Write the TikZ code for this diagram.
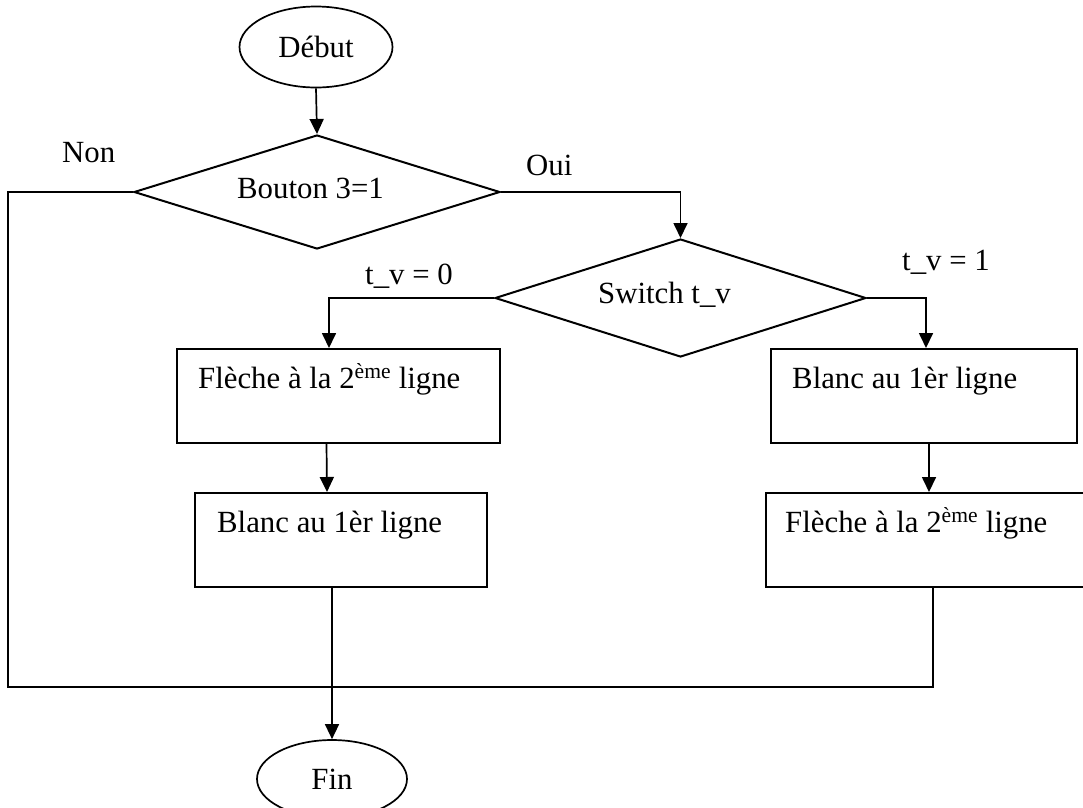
\documentclass[tikz,border=0pt]{standalone}
\usepackage{fontspec}
\setmainfont{Liberation Serif}
\usetikzlibrary{shapes.geometric,arrows.meta,calc}

\begin{document}
\begin{tikzpicture}[x=1pt,y=-1pt,
  every node/.style={font=\fontsize{30.8}{36}\selectfont},
  term/.style={draw,ellipse,line width=1.7pt,inner sep=0pt},
  decision/.style={draw,diamond,line width=2pt,inner sep=0pt},
  action/.style={draw,rectangle,line width=2pt,inner sep=0pt},
  flow/.style={line width=1.7pt,-{Triangle[length=15pt,width=14pt]}},
  wire/.style={line width=2pt},
  txt/.style={anchor=base west,inner sep=0pt}]
\useasboundingbox (0,0) rectangle (1083,807);
\clip (0,0) rectangle (1083,807);

% terminals
\node[term,minimum width=153pt,minimum height=81pt] (debut) at (316,47) {Début};
\node[term,minimum width=150pt,minimum height=78pt] (fin) at (332,779) {Fin};

% decisions
\node[decision,minimum width=366pt,minimum height=114pt] (b3) at (317,192) {};
\node[txt] (b3txt) at (237,198) {Bouton 3=1};
\node[decision,minimum width=371pt,minimum height=118pt] (sw) at (680.5,298) {};
\node[txt] (swtxt) at (598,303) {Switch t\_v};

% actions
\node[action,minimum width=323pt,minimum height=94pt] (l1) at (338.5,396) {};
\node[action,minimum width=292pt,minimum height=94pt] (l2) at (341,540) {};
\node[action,minimum width=306pt,minimum height=94pt] (r1) at (924,396) {};
\node[action,minimum width=334pt,minimum height=94pt] (r2) at (933,540) {};
\node[txt] (l1txt) at (198,388) {Flèche à la 2\textsuperscript{ème} ligne};
\node[txt] (l2txt) at (217,532) {Blanc au 1èr ligne};
\node[txt] (r1txt) at (792,388) {Blanc au 1èr ligne};
\node[txt] (r2txt) at (785,532) {Flèche à la 2\textsuperscript{ème} ligne};

% branch labels
\node[txt] (non) at (62,162) {Non};
\node[txt] (oui) at (526,175) {Oui};
\node[txt] (tv0) at (365,284) {t\_v = 0};
\node[txt] (tv1) at (902,270) {t\_v = 1};

% connectors
\draw[flow] (debut.south) -- (b3.north);
\draw[flow] (b3.east) -| (sw.north);
\draw[flow] (sw.west) -| ([xshift=-9.5pt]l1.north);
\draw[flow] (sw.east) -| ([xshift=2pt]r1.north);
\draw[flow] ([xshift=-12pt]l1.south) -- ([xshift=-14pt]l2.north);
\draw[flow] ([xshift=5pt]r1.south) -- ([xshift=-4pt]r2.north);
\draw[flow,line width=1.4pt] ([xshift=-9pt]l2.south) -- (fin.north);

% "Non" branch and right column join the bottom line
\coordinate (loopL) at (8,687);
\coordinate (loopR) at (933,687);
\draw[wire] (b3.west) -| (loopL) -- (loopR) -- (r2.south);
\end{tikzpicture}
\end{document}
